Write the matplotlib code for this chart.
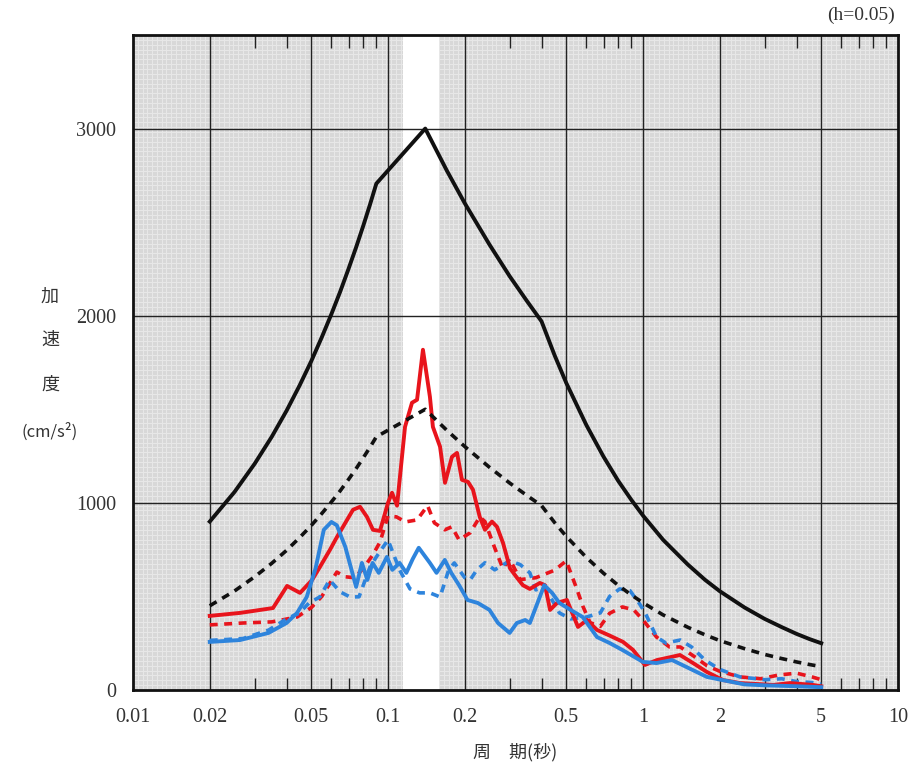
import numpy as np
import matplotlib
matplotlib.use("Agg")
import matplotlib.pyplot as plt
from matplotlib.ticker import FixedLocator, NullFormatter

# -------------------------
# Data
# -------------------------
design_T = [0.02, 0.025, 0.03, 0.035, 0.04, 0.045, 0.05, 0.055, 0.06, 0.065, 0.07,
            0.075, 0.08, 0.085, 0.09, 0.14, 0.17, 0.2, 0.25, 0.3, 0.35, 0.4, 0.45,
            0.5, 0.6, 0.7, 0.8, 0.9, 1.0, 1.2, 1.5, 1.75, 2.0, 2.5, 3.0, 3.5, 4.0,
            4.5, 5.0]
design_upper = [900, 1058, 1209, 1353, 1492, 1627, 1757, 1885, 2009, 2130, 2250,
                2366, 2481, 2594, 2706, 3000, 2776, 2601, 2380, 2211, 2080, 1970, 1789,
                1641, 1415, 1247, 1117, 1016, 932, 802, 670, 589, 528, 441, 380, 336, 300,
                272, 250]
design_lower = [450, 529, 605, 677, 746, 814, 879, 943, 1005, 1065, 1125,
                1183, 1241, 1297, 1353, 1500, 1388, 1301, 1190, 1106, 1040, 985, 895,
                821, 708, 624, 559, 508, 466, 401, 335, 295, 264, 221, 190, 168, 150,
                136, 125]

red_T = [0.020, 0.0263, 0.0354, 0.0402, 0.0452, 0.0504, 0.0541, 0.0592, 0.0631, 0.0666,
         0.0729, 0.0777, 0.0827, 0.0873, 0.093, 0.100, 0.1037, 0.1085, 0.1166, 0.1242,
         0.130, 0.1371, 0.146, 0.150, 0.160, 0.1673, 0.1782, 0.1865, 0.195, 0.206,
         0.2154, 0.229, 0.240, 0.2557, 0.2676, 0.2825, 0.301, 0.3205, 0.338, 0.360,
         0.394, 0.4128, 0.432, 0.460, 0.503, 0.556, 0.603, 0.660, 0.742, 0.835,
         0.914, 1.018, 1.135, 1.276, 1.396, 1.571, 1.782, 2.06, 2.40, 3.24,
         3.77, 4.64, 5.0]
red_solid = [396, 412, 438, 556, 519, 588, 658, 749, 818, 872,
             963, 979, 925, 856, 850, 1000, 1054, 985, 1406, 1535,
             1551, 1818, 1567, 1406, 1300, 1107, 1246, 1267, 1123, 1112,
             1070, 925, 856, 900, 872, 786, 650, 600, 560, 540,
             572, 560, 428, 465, 481, 337, 374, 321, 290, 257,
             214, 134, 160, 175, 187, 144, 96, 53, 37, 27,
             37, 27, 20]

red_dash_T = [0.020, 0.027, 0.035, 0.044, 0.050, 0.055, 0.063, 0.068, 0.074, 0.080,
              0.087, 0.093, 0.100, 0.108, 0.117, 0.130, 0.143, 0.152, 0.167, 0.178,
              0.190, 0.210, 0.229, 0.240, 0.262, 0.282, 0.300, 0.330, 0.380, 0.450,
              0.500, 0.550, 0.580, 0.620, 0.680, 0.740, 0.830, 0.920, 1.00, 1.13,
              1.27, 1.40, 1.60, 1.78, 2.0, 2.4, 2.9, 3.4, 4.0, 4.6, 5.0]
red_dashed = [348, 358, 364, 390, 440, 500, 630, 605, 600, 650,
              720, 790, 930, 925, 898, 909, 985, 893, 856, 872,
              802, 840, 925, 900, 760, 650, 700, 590, 600, 640,
              690, 540, 450, 360, 340, 410, 444, 428, 374, 283,
              230, 230, 176, 130, 100, 70, 60, 80, 90, 70, 55]

blue_T = [0.020, 0.0263, 0.034, 0.040, 0.044, 0.048, 0.052, 0.056, 0.060, 0.063,
          0.068, 0.072, 0.075, 0.079, 0.083, 0.087, 0.092, 0.099, 0.104, 0.111,
          0.118, 0.125, 0.132, 0.146, 0.155, 0.167, 0.177, 0.190, 0.205, 0.225,
          0.250, 0.270, 0.300, 0.320, 0.345, 0.360, 0.410, 0.440, 0.470, 0.520,
          0.580, 0.660, 0.740, 0.830, 1.00, 1.13, 1.30, 1.48, 1.78, 2.05,
          2.5, 3.0, 4.0, 5.0]
blue_solid = [257, 267, 305, 358, 412, 497, 650, 856, 898, 880,
              765, 640, 551, 679, 588, 679, 626, 711, 642, 679,
              626, 700, 760, 679, 626, 695, 626, 560, 481, 465,
              428, 358, 305, 358, 374, 358, 560, 519, 465, 428,
              390, 283, 251, 214, 150, 144, 160, 123, 70, 53,
              30, 25, 20, 15]

blue_dash_T = [0.020, 0.027, 0.034, 0.040, 0.045, 0.049, 0.054, 0.059, 0.065, 0.071,
               0.077, 0.085, 0.090, 0.100, 0.111, 0.122, 0.133, 0.146, 0.160, 0.173,
               0.182, 0.200, 0.210, 0.223, 0.240, 0.262, 0.300, 0.330, 0.360, 0.380,
               0.410, 0.440, 0.470, 0.520, 0.600, 0.680, 0.740, 0.810, 0.890, 0.970,
               1.02, 1.13, 1.23, 1.40, 1.55, 1.75, 2.0, 2.4, 3.0, 3.5,
               4.0, 4.6, 5.0]
blue_dashed = [265, 275, 320, 380, 412, 465, 497, 588, 524, 497,
               498, 658, 711, 802, 642, 540, 519, 519, 497, 642,
               679, 600, 588, 642, 680, 642, 690, 670, 626, 535,
               551, 481, 412, 380, 390, 412, 500, 540, 530, 460,
               412, 283, 251, 267, 230, 160, 110, 70, 55, 60,
               45, 40, 30]

band = (0.114, 0.159)
x_ticks = [0.01, 0.02, 0.05, 0.1, 0.2, 0.5, 1, 2, 5, 10]
x_labels = ["0.01", "0.02", "0.05", "0.1", "0.2", "0.5", "1", "2", "5", "10"]
y_ticks = [0, 1000, 2000, 3000]

RED = "#e8141c"
BLUE = "#2e84dc"
DASH = (0, (2.2, 1.8))

# -------------------------
# Plot
# -------------------------
fig = plt.figure(figsize=(9.16, 7.72), dpi=100)
ax = fig.add_axes([133 / 916, 82 / 772, 765 / 916, 655 / 772])
ax.set_xscale("log")
ax.set_xlim(0.01, 10)
ax.set_ylim(0, 3500)

# grey mesh background
ax.set_facecolor("#d8d8d8")
ax.vlines(np.arange(0, 1, 1 / 160), 0, 1, transform=ax.transAxes,
          colors="#e8e8e8", lw=0.7, zorder=0)
ax.hlines(np.arange(0, 1, 1 / 135), 0, 1, transform=ax.transAxes,
          colors="#e8e8e8", lw=0.7, zorder=0)
ax.axvspan(*band, color="white", zorder=0.5, lw=0)

# major grid
for t in x_ticks[1:-1]:
    ax.axvline(t, color="#222222", lw=1.0, zorder=1)
for v in y_ticks[1:]:
    ax.axhline(v, color="#222222", lw=1.0, zorder=1)

ax.plot(design_T, design_upper, color="#111111", lw=2.8, zorder=5)
ax.plot(design_T, design_lower, color="#111111", lw=2.6, ls=DASH, zorder=5)
ax.plot(red_dash_T, red_dashed, color=RED, lw=2.6, ls=DASH, zorder=3)
ax.plot(blue_dash_T, blue_dashed, color=BLUE, lw=2.6, ls=DASH, zorder=3)
ax.plot(red_T, red_solid, color=RED, lw=2.8, zorder=4)
ax.plot(blue_T, blue_solid, color=BLUE, lw=2.8, zorder=4)

# ticks
ax.xaxis.set_major_locator(FixedLocator(x_ticks))
ax.set_xticklabels(x_labels)
minor = [m * 10.0 ** e for e in (-2, -1, 0) for m in (3, 4, 6, 7, 8, 9)]
ax.xaxis.set_minor_locator(FixedLocator(minor))
ax.xaxis.set_minor_formatter(NullFormatter())
ax.tick_params(axis="x", which="minor", direction="in", length=9, width=1.0,
               top=True, bottom=True, color="#222222")
ax.tick_params(axis="x", which="major", length=0, pad=13)
ax.set_yticks(y_ticks)
ax.tick_params(axis="y", which="major", length=0, pad=12)
for lab in ax.get_xticklabels() + ax.get_yticklabels():
    lab.set_fontfamily("Liberation Serif")
    lab.set_fontsize(14.5)
    lab.set_color("#333333")

for s in ax.spines.values():
    s.set_linewidth(2.0)
    s.set_color("#111111")
    s.set_zorder(6)

jp = ["Noto Sans CJK JP", "DejaVu Sans"]
for txt, yy in [("加", 297), ("速", 340), ("度", 385)]:
    fig.text(50 / 916, 1 - yy / 772, txt, family=jp, fontsize=13, color="#333333",
             ha="center", va="center")
fig.text(50 / 916, 1 - 432 / 772, "(cm/s²)", family=jp, fontsize=12, color="#333333",
         ha="center", va="center")
fig.text(515 / 916, 1 - 752 / 772, "周　期(秒)", family=jp, fontsize=13, color="#333333",
         ha="center", va="center")
fig.text(895 / 916, 1 - 15 / 772, "(h=0.05)", family="Liberation Serif", fontsize=14,
         color="#333333", ha="right", va="center")

fig.savefig("out.png", dpi=100)
plt.close(fig)
